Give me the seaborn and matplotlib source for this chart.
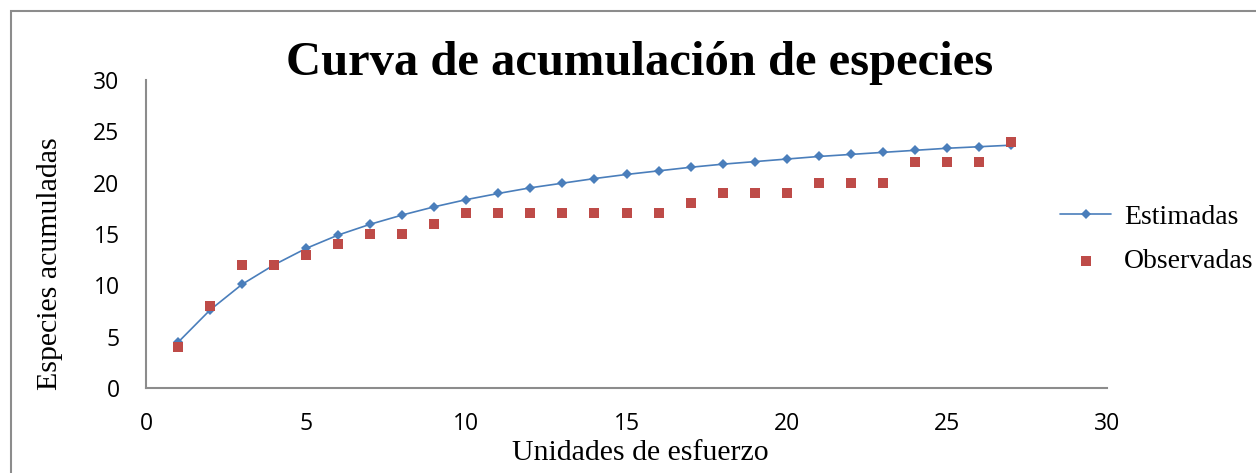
import matplotlib
matplotlib.use('Agg')
import matplotlib.pyplot as plt
import seaborn as sns
import pandas as pd
from matplotlib.patches import Rectangle

# Data
unidades = list(range(1, 28))
estimadas = [4.45, 7.6, 10.1, 12.0, 13.6, 14.9, 15.95, 16.85, 17.65, 18.35,
             18.95, 19.5, 19.95, 20.4, 20.8, 21.15, 21.5, 21.8, 22.05, 22.3,
             22.55, 22.75, 22.95, 23.15, 23.35, 23.5, 23.65]
observadas = [4, 8, 12, 12, 13, 14, 15, 15, 16, 17, 17, 17, 17, 17, 17, 17,
              18, 19, 19, 19, 20, 20, 20, 22, 22, 22, 24]

df = pd.DataFrame({'Unidades': unidades, 'Estimadas': estimadas, 'Observadas': observadas})

sns.set_style('white')
plt.rcParams['text.color'] = 'black'
plt.rcParams['axes.labelcolor'] = 'black'
plt.rcParams['xtick.color'] = 'black'
plt.rcParams['ytick.color'] = 'black'
serif = ['Liberation Serif', 'DejaVu Serif']
sans = ['Open Sans', 'DejaVu Sans']

fig = plt.figure(figsize=(12.56, 4.73), dpi=100)
ax = fig.add_axes([146 / 1256, 1 - 388 / 473, (1107 - 146) / 1256, (388 - 80) / 473])

sns.lineplot(x='Unidades', y='Estimadas', data=df, ax=ax, color='#4A7EBB',
             marker='D', markersize=5.5, markeredgewidth=0, linewidth=1.2,
             label='Estimadas')
sns.scatterplot(x='Unidades', y='Observadas', data=df, ax=ax, color='#BE4B48',
                marker='s', s=45, linewidth=0, label='Observadas', zorder=3)

ax.set_xlim(0, 30)
ax.set_ylim(0, 30)
ax.set_xticks(range(0, 31, 5))
ax.set_yticks(range(0, 31, 5))
for lab in ax.get_xticklabels() + ax.get_yticklabels():
    lab.set_family(sans)
    lab.set_fontsize(16.5)
ax.tick_params(axis='x', length=0, pad=17)
ax.tick_params(axis='y', length=0, pad=19)

for side in ['top', 'right']:
    ax.spines[side].set_visible(False)
for side in ['left', 'bottom']:
    ax.spines[side].set_color('#8C8C8C')
    ax.spines[side].set_linewidth(1.5)

ax.set_xlabel('Unidades de esfuerzo', family=serif, fontsize=21.5)
ax.xaxis.label.set_va('baseline')
ax.xaxis.set_label_coords(0.514, -0.234)
ax.set_ylabel('Especies acumuladas', family=serif, fontsize=21.5)
ax.yaxis.label.set_va('center')
ax.yaxis.set_label_coords(-0.1, 0.403)

fig.text(0.509, 0.866, 'Curva de acumulación de especies', family=serif,
         fontsize=35, fontweight='bold', ha='center', va='center')

leg = ax.legend(loc='center left', bbox_to_anchor=(1060 / 1256, 1 - 239.5 / 473),
                bbox_transform=fig.transFigure, frameon=False,
                prop={'family': serif, 'size': 20}, handlelength=1.85,
                handletextpad=0.45, labelspacing=0.68, borderaxespad=0, borderpad=0)

# outer chart border (Excel style)
fig.patches.append(Rectangle((11 / 1256, -0.1), 1.2, 1.1 - 11 / 473, transform=fig.transFigure,
                             fill=False, edgecolor='#8C8C8C', linewidth=1.5))

fig.savefig('out.png', dpi=100)
